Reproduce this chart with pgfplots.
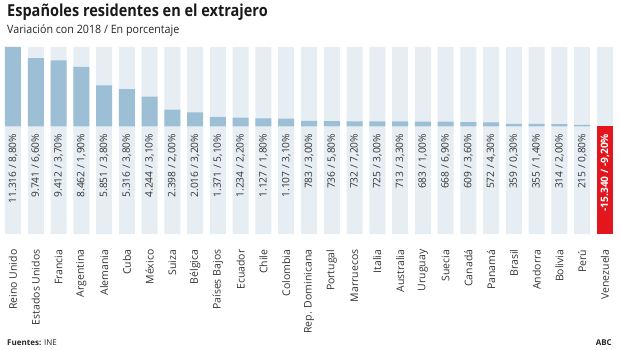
\documentclass[border=0pt]{standalone}
\usepackage{pgfplots}
\usepackage{pgfplotstable}
\pgfplotsset{compat=1.18}
\usepackage{fontspec}
\setmainfont{Open Sans}
\newfontfamily\titlefont[FakeStretch=0.88]{Open Sans}
\newfontfamily\subfont[FakeStretch=0.93]{Open Sans}
\definecolor{bgcol}{HTML}{E6EEF4}
\definecolor{barcol}{HTML}{9DBFD6}
\definecolor{redcol}{HTML}{E3161E}
\definecolor{txt}{HTML}{333333}
\pgfplotstableread[col sep=semicolon]{
x;name;val;label;top;bot
0;Reino Unido;11316;11.316 / 8,80\%;11316;-15340
1;Estados Unidos;9741;9.741 / 6,60\%;11316;-15340
2;Francia;9412;9.412 / 3,70\%;11316;-15340
3;Argentina;8462;8.462 / 1,90\%;11316;-15340
4;Alemania;5851;5.851 / 3,80\%;11316;-15340
5;Cuba;5316;5.316 / 3,80\%;11316;-15340
6;México;4244;4.244 / 3,10\%;11316;-15340
7;Suiza;2398;2.398 / 2,00\%;11316;-15340
8;Bélgica;2016;2.016 / 3,20\%;11316;-15340
9;Países Bajos;1371;1.371 / 5,10\%;11316;-15340
10;Ecuador;1234;1.234 / 2,20\%;11316;-15340
11;Chile;1127;1.127 / 1,80\%;11316;-15340
12;Colombia;1107;1.107 / 3,10\%;11316;-15340
13;Rep. Dominicana;783;783 / 3,00\%;11316;-15340
14;Portugal;736;736 / 5,80\%;11316;-15340
15;Marruecos;732;732 / 7,20\%;11316;-15340
16;Italia;725;725 / 3,00\%;11316;-15340
17;Australia;713;713 / 3,30\%;11316;-15340
18;Uruguay;683;683 / 1,00\%;11316;-15340
19;Suecia;668;668 / 6,90\%;11316;-15340
20;Canadá;609;609 / 3,60\%;11316;-15340
21;Panamá;572;572 / 4,30\%;11316;-15340
22;Brasil;359;359 / 0,30\%;11316;-15340
23;Andorra;355;355 / 1,40\%;11316;-15340
24;Bolivia;314;314 / 2,00\%;11316;-15340
25;Perú;215;215 / 0,80\%;11316;-15340
26;Venezuela;-15340;-15.340 / -9,20\%;11316;-15340
}\datatable
\begin{document}
\begin{tikzpicture}
\path[use as bounding box] (0,0) rectangle (620pt,349pt);
\node[anchor=base west, inner sep=0, font=\fontsize{16.5}{20}\titlefont\bfseries, text=black!90] at (7pt,332.3pt) {Españoles residentes en el extrajero};
\node[anchor=base west, inner sep=0, font=\fontsize{11.5}{14}\subfont, text=black!85] at (7pt,315.7pt) {Variación con 2018 / En porcentaje};
\node[anchor=base west, inner sep=0, font=\fontsize{8}{10}\selectfont, text=black!85] at (7pt,4pt) {\textbf{Fuentes:} INE};
\node[anchor=base east, inner sep=0, font=\fontsize{8}{10}\selectfont\bfseries, text=black!85] at (612pt,4pt) {ABC};
\begin{axis}[
  anchor=origin, at={(13pt,222.6pt)},
  x=22.769pt, y=0.0070153pt,
  xmin=0, xmax=26, ymin=-15340, ymax=11316,
  clip=false,
  axis line style={draw=none},
  major tick length=0pt,
  ytick=\empty,
  xtick={0,...,26},
  xticklabels from table={\datatable}{name},
  xticklabel shift=12pt,
  xticklabel style={rotate=90, anchor=east, font=\fontsize{10.5}{12}\selectfont, text=txt},
]
\addplot[ybar, bar width=16pt, bar shift=0pt, fill=bgcol, draw=none] table[x=x, y=top] {\datatable};
\addplot[ybar, bar width=16pt, bar shift=0pt, fill=bgcol, draw=none] table[x=x, y=bot] {\datatable};
\addplot[ybar, bar width=16pt, bar shift=0pt, fill=barcol, draw=none, restrict x to domain=0:25] table[x=x, y=val] {\datatable};
\addplot[ybar, bar width=16pt, bar shift=0pt, fill=redcol, draw=none, restrict x to domain=26:26] table[x=x, y=val] {\datatable};
\addplot[draw=none, mark=none, restrict x to domain=0:25, point meta=explicit symbolic,
  nodes near coords,
  every node near coord/.style={yshift=-4pt, rotate=90, anchor=east, font=\fontsize{10.2}{12}\selectfont, text=txt}]
  table[x=x, y expr=0, meta=label] {\datatable};
\addplot[draw=none, mark=none, restrict x to domain=26:26, point meta=explicit symbolic,
  nodes near coords,
  every node near coord/.style={yshift=-4pt, rotate=90, anchor=east, font=\fontsize{10.2}{12}\selectfont\bfseries, text=white}]
  table[x=x, y expr=0, meta=label] {\datatable};
\end{axis}
\end{tikzpicture}
\end{document}
